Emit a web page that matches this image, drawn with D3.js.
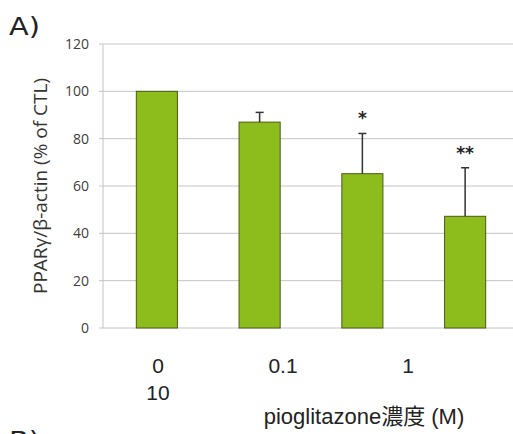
<!DOCTYPE html>
<html>
<head>
<meta charset="utf-8">
<script src="https://cdn.jsdelivr.net/npm/d3@7"></script>
<style>
  body { margin: 0; background: #fff; }
  svg { display: block; }
</style>
</head>
<body>
<div id="graphic"></div>
<script>
// data
var categories = ["0", "0.1", "1", "10"];
var means = [100, 87, 65.2, 47.2];
var errors = [0, 4.1, 17, 20.5];
var stars = ["", "", "*", "**"];
var yTicks = [0, 20, 40, 60, 80, 100, 120];
var tickLabels = ["0", "0.1", "1", "10"];

var width = 513, height = 434;
var margin = {top: 44, left: 103, bottom: 106};

var svg = d3.select("#graphic").append("svg")
  .attr("width", width)
  .attr("height", height);

var x = d3.scaleBand()
  .domain(categories)
  .range([margin.left + 2.5, margin.left + 413.5])
  .paddingInner(0.6)
  .paddingOuter(0.3);

var y = d3.scaleLinear()
  .domain([0, 120])
  .range([height - margin.bottom, margin.top]);

// gridlines
svg.append("g").selectAll("line")
  .data(yTicks)
  .enter().append("line")
  .attr("x1", margin.left - 4)
  .attr("x2", width)
  .attr("y1", function(d) { return y(d); })
  .attr("y2", function(d) { return y(d); })
  .attr("stroke", "#c4c4c4")
  .attr("stroke-width", 1);

// y axis line
svg.append("line")
  .attr("x1", margin.left).attr("x2", margin.left)
  .attr("y1", y(120)).attr("y2", y(0))
  .attr("stroke", "#c4c4c4");

// y tick labels
svg.append("g").selectAll("text")
  .data(yTicks)
  .enter().append("text")
  .attr("x", 89)
  .attr("y", function(d) { return y(d); })
  .attr("dy", "0.35em")
  .attr("text-anchor", "end")
  .attr("font-family", "Open Sans, Arial, sans-serif")
  .attr("font-size", 14)
  .attr("fill", "#404040")
  .text(function(d) { return d; });

// bars
svg.append("g").selectAll("rect")
  .data(means)
  .enter().append("rect")
  .attr("x", function(d, i) { return x(categories[i]); })
  .attr("width", x.bandwidth())
  .attr("y", function(d) { return y(d); })
  .attr("height", function(d) { return y(0) - y(d); })
  .attr("fill", "#8dbd1c")
  .attr("stroke", "#4b5a14")
  .attr("stroke-width", 1);

// error bars (upper only)
var eb = svg.append("g").attr("stroke", "#333").attr("stroke-width", 1.5);
means.forEach(function(m, i) {
  if (!errors[i]) return;
  var cx = x(categories[i]) + x.bandwidth() / 2;
  eb.append("line")
    .attr("x1", cx).attr("x2", cx)
    .attr("y1", y(m)).attr("y2", y(m + errors[i]));
  eb.append("line")
    .attr("x1", cx - 4).attr("x2", cx + 4)
    .attr("y1", y(m + errors[i])).attr("y2", y(m + errors[i]));
});

// significance stars
svg.append("g").selectAll("text")
  .data(stars)
  .enter().append("text")
  .attr("x", function(d, i) { return x(categories[i]) + x.bandwidth() / 2; })
  .attr("y", function(d, i) { return y(means[i] + errors[i]) - 9; })
  .attr("text-anchor", "middle")
  .attr("font-family", "DejaVu Sans, sans-serif")
  .attr("font-size", 17)
  .attr("font-weight", "bold")
  .attr("fill", "#222")
  .text(function(d) { return d; });

// x labels (pasted text, wraps after the third)
var labelX = d3.scaleLinear().domain([0, 1]).range([158, 283]);
svg.append("g").selectAll("text")
  .data(tickLabels)
  .enter().append("text")
  .attr("x", function(d, i) { return i < 3 ? labelX(i) : labelX(0); })
  .attr("y", function(d, i) { return i < 3 ? 373 : 400; })
  .attr("text-anchor", "middle")
  .attr("font-family", "Liberation Sans, Arial, sans-serif")
  .attr("font-size", 21)
  .attr("fill", "#222")
  .text(function(d) { return d; });

// x title
svg.append("text")
  .attr("x", 364)
  .attr("y", 424)
  .attr("text-anchor", "middle")
  .attr("font-family", "Liberation Sans, 'Noto Sans CJK JP', sans-serif")
  .attr("font-size", 22)
  .attr("fill", "#222")
  .text("pioglitazone濃度 (M)");

// y title
svg.append("text")
  .attr("transform", "translate(47," + 186 + ") rotate(-90)")
  .attr("text-anchor", "middle")
  .attr("font-family", "Open Sans, Arial, sans-serif")
  .attr("font-size", 19)
  .attr("fill", "#333")
  .text("PPARγ/β-actin (% of CTL)");

// panel letters
svg.append("text")
  .attr("transform", "translate(9,35) scale(1.2,1)")
  .attr("font-family", "DejaVu Sans, sans-serif")
  .attr("font-size", 24)
  .attr("fill", "#222")
  .text("A)");

svg.append("text")
  .attr("transform", "translate(9,449) scale(1.2,1)")
  .attr("font-family", "DejaVu Sans, sans-serif")
  .attr("font-size", 24)
  .attr("fill", "#222")
  .text("B)");
</script>
</body>
</html>
